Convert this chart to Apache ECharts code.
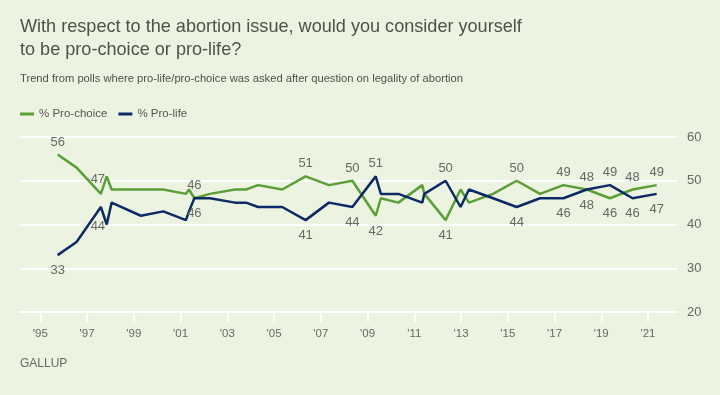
<!DOCTYPE html>
<html>
<head>
<meta charset="utf-8">
<script src="https://cdn.jsdelivr.net/npm/echarts@6/dist/echarts.min.js"></script>
<style>
html,body{margin:0;padding:0;background:#ecf3e1;}
#chart{width:720px;height:395px;}
</style>
</head>
<body>
<div id="chart"></div>
<script>
// Poll dates (decimal years)
const dates = [1995.74, 1996.55, 1997.59, 1997.84, 1998.05, 1999.30, 2000.26, 2001.23, 2001.36, 2001.59,
  2002.26, 2003.33, 2003.80, 2004.32, 2005.35, 2006.35, 2007.35, 2008.35, 2009.35, 2009.57,
  2010.32, 2011.34, 2011.43, 2012.34, 2012.98, 2013.34, 2014.37, 2015.38, 2016.38, 2017.38,
  2018.38, 2019.37, 2020.34, 2021.37];
const proChoice = [56, 53, 47, 51, 48, 48, 48, 47, 48, 46,
  47, 48, 48, 49, 48, 51, 49, 50, 42, 46,
  45, 49, 47, 41, 48, 45, 47, 50, 47, 49,
  48, 46, 48, 49];
const proLife = [33, 36, 44, 40, 45, 42, 43, 41, 43, 46,
  46, 45, 45, 44, 44, 41, 45, 44, 51, 47,
  47, 45, 47, 50, 44, 48, 46, 44, 46, 46,
  48, 49, 46, 47];
const tickYears = [1995, 1997, 1999, 2001, 2003, 2005, 2007, 2009, 2011, 2013, 2015, 2017, 2019, 2021];
const tickLabels = ["'95", "'97", "'99", "'01", "'03", "'05", "'07", "'09", "'11", "'13", "'15", "'17", "'19", "'21"];
const seriesNames = ['% Pro-choice', '% Pro-life'];

// which points carry a value label (index -> side)
const choiceLabelSide = {0:'top', 2:'top', 9:'top', 15:'top', 17:'top', 18:'bottom', 23:'bottom', 27:'top', 29:'top', 30:'top', 31:'bottom', 32:'top', 33:'top'};
const lifeLabelSide = {0:'bottom', 2:'bottom', 9:'bottom', 15:'bottom', 17:'bottom', 18:'top', 23:'top', 27:'bottom', 29:'bottom', 30:'bottom', 31:'top', 32:'bottom', 33:'bottom'};
const labelOffsets = {choice: {2: [-3, -2]}, life: {2: [-3, 4]}};

const FONT = '"Liberation Sans", Arial, sans-serif';

function build(values, sides, offs) {
  return values.map((v, i) => {
    const item = { value: [dates[i], v] };
    if (sides[i]) {
      item.label = {
        show: true,
        position: sides[i],
        distance: sides[i] === 'top' ? 6 : 9,
        offset: offs[i] || [0, 0]
      };
    }
    return item;
  });
}

const chart = echarts.init(document.getElementById('chart'), null, {renderer: 'canvas'});
chart.setOption({
  backgroundColor: '#ecf3e1',
  animation: false,
  title: [
    { text: 'With respect to the abortion issue, would you consider yourself\nto be pro-choice or pro-life?',
      left: 20, top: 16, padding: 0,
      textStyle: { fontFamily: FONT, fontSize: 18.1, fontWeight: 'normal', color: '#4f524b', lineHeight: 22.7 } },
    { text: 'Trend from polls where pro-life/pro-choice was asked after question on legality of abortion',
      left: 20, top: 72, padding: 0,
      textStyle: { fontFamily: FONT, fontSize: 11.2, fontWeight: 'normal', color: '#4f524b', lineHeight: 14 } },
    { text: 'GALLUP', left: 20, top: 358, padding: 0,
      textStyle: { fontFamily: FONT, fontSize: 12, fontWeight: 'normal', color: '#666a62' } }
  ],
  legend: {
    left: 20, top: 108, padding: 0,
    itemWidth: 14, itemHeight: 3, itemGap: 11,
    icon: 'rect',
    textStyle: { fontFamily: FONT, fontSize: 11.5, color: '#555850' },
    data: seriesNames
  },
  grid: { left: 20, right: 43, top: 137, bottom: 83, containLabel: false },
  xAxis: {
    type: 'value', min: 1994.13, max: 2022.24,
    axisLine: { show: true, lineStyle: { color: '#ffffff', width: 2 } },
    axisTick: { show: true, length: 10, lineStyle: { color: '#ffffff', width: 2 }, customValues: tickYears },
    axisLabel: {
      customValues: tickYears,
      formatter: v => tickLabels[tickYears.indexOf(Math.round(v))] || '',
      margin: 16, color: '#666a62', fontFamily: FONT, fontSize: 11.5
    },
    splitLine: { show: false }
  },
  yAxis: {
    type: 'value', position: 'right', min: 20, max: 60, interval: 10,
    axisLine: { show: false }, axisTick: { show: false },
    axisLabel: { margin: 10, color: '#666a62', fontFamily: FONT, fontSize: 13 },
    splitLine: { lineStyle: { color: '#ffffff', width: 2 } }
  },
  series: [
    { name: seriesNames[0], type: 'line', data: build(proChoice, choiceLabelSide, labelOffsets.choice),
      symbol: 'circle', symbolSize: 0, showSymbol: true, showAllSymbol: true,
      lineStyle: { color: '#5b9f37', width: 2.5 }, itemStyle: { color: '#5b9f37' },
      label: { show: false, color: '#666a62', fontFamily: FONT, fontSize: 13, formatter: p => p.value[1] },
      z: 2 },
    { name: seriesNames[1], type: 'line', data: build(proLife, lifeLabelSide, labelOffsets.life),
      symbol: 'circle', symbolSize: 0, showSymbol: true, showAllSymbol: true,
      lineStyle: { color: '#0d2a66', width: 2.5 }, itemStyle: { color: '#0d2a66' },
      label: { show: false, color: '#666a62', fontFamily: FONT, fontSize: 13, formatter: p => p.value[1] },
      z: 3 }
  ]
});
</script>
</body>
</html>
